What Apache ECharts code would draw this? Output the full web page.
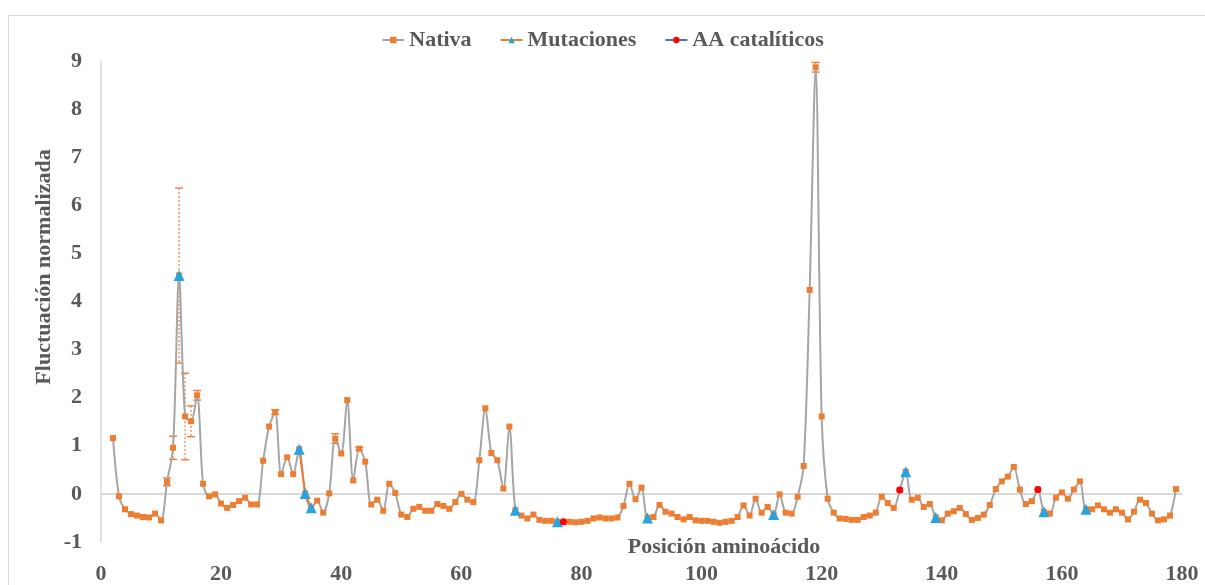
<!DOCTYPE html>
<html>
<head>
<meta charset="utf-8">
<script src="https://cdn.jsdelivr.net/npm/echarts@6/dist/echarts.min.js"></script>
<style>
  html, body { margin: 0; padding: 0; background: #fff; }
  #chart { width: 1205px; height: 585px; }
</style>
</head>
<body>
<div id="chart"></div>
<script>
// posiciones 2..179
const firstPos = 2;
const nativa = [
  1.16, -0.05, -0.32, -0.42, -0.45, -0.48, -0.49, -0.41, -0.55, 0.25,
  0.96, 4.54, 1.61, 1.51, 2.05, 0.21, -0.05, -0.01, -0.20, -0.29,
  -0.23, -0.15, -0.08, -0.22, -0.22, 0.69, 1.40, 1.70, 0.41, 0.76,
  0.41, 0.93, 0.01, -0.29, -0.14, -0.39, 0.01, 1.15, 0.84, 1.95,
  0.28, 0.94, 0.67, -0.22, -0.12, -0.35, 0.21, 0.02, -0.43, -0.48,
  -0.31, -0.27, -0.35, -0.35, -0.21, -0.25, -0.31, -0.17, 0.00, -0.12,
  -0.17, 0.70, 1.78, 0.85, 0.70, 0.11, 1.40, -0.34, -0.45, -0.51,
  -0.43, -0.54, -0.56, -0.56, -0.58, -0.58, -0.58, -0.59, -0.58, -0.56,
  -0.51, -0.49, -0.51, -0.51, -0.49, -0.25, 0.21, -0.11, 0.13, -0.50,
  -0.48, -0.23, -0.37, -0.41, -0.48, -0.53, -0.48, -0.55, -0.56, -0.56,
  -0.58, -0.60, -0.58, -0.56, -0.48, -0.24, -0.45, -0.10, -0.39, -0.27,
  -0.43, -0.01, -0.39, -0.41, -0.06, 0.58, 4.24, 8.87, 1.61, -0.10,
  -0.39, -0.51, -0.52, -0.54, -0.54, -0.48, -0.45, -0.39, -0.06, -0.19,
  -0.29, 0.08, 0.46, -0.12, -0.08, -0.27, -0.21, -0.49, -0.55, -0.41,
  -0.36, -0.29, -0.42, -0.54, -0.50, -0.43, -0.23, 0.10, 0.26, 0.36,
  0.56, 0.09, -0.21, -0.15, 0.09, -0.37, -0.41, -0.08, 0.03, -0.10,
  0.09, 0.26, -0.32, -0.32, -0.24, -0.32, -0.39, -0.32, -0.39, -0.53,
  -0.37, -0.12, -0.19, -0.41, -0.55, -0.53, -0.45, 0.10
];
const mutPos = [13, 33, 34, 35, 69, 76, 91, 112, 134, 139, 157, 164];
const mutVal = [4.54, 0.93, 0.01, -0.29, -0.34, -0.58, -0.50, -0.43, 0.46, -0.49, -0.37, -0.32];
const catPos = [77, 133, 156];
const catVal = [-0.58, 0.08, 0.09];
const errPos = [11, 12, 13, 14, 15, 16, 29, 39, 43, 119];
const errAmt = [0.08, 0.24, 1.82, 0.90, 0.32, 0.10, 0.05, 0.10, 0.03, 0.10];
const xTicks = [0, 20, 40, 60, 80, 100, 120, 140, 160, 180];

const font = '"Liberation Serif", "Times New Roman", serif';
const txt = '#595959';
const orange = '#ED7D31';

let nativaData = nativa.map((v, i) => [firstPos + i, v]);
let mutData = [];
mutPos.forEach((p, i) => {
  if (i > 0 && p !== mutPos[i - 1] + 1) mutData.push([p - 0.5, '-']);
  mutData.push([p, mutVal[i]]);
});
let catData = [];
catPos.forEach((p, i) => {
  if (i > 0) catData.push([p - 0.5, '-']);
  catData.push([p, catVal[i]]);
});
let errData = errPos.map((p, i) => {
  let v = nativa[p - firstPos];
  return [p, v - errAmt[i], v + errAmt[i]];
});

let chart = echarts.init(document.getElementById('chart'));
chart.setOption({
  animation: false,
  backgroundColor: '#fff',
  textStyle: { fontFamily: font },
  grid: { left: 101, right: 23, top: 61, bottom: 40, containLabel: false },
  legend: {
    top: 24, left: 'center',
    itemWidth: 22, itemHeight: 8, itemGap: 28,
    textStyle: { fontFamily: font, fontSize: 22, fontWeight: 'bold', color: txt },
    data: ['Nativa', 'Mutaciones', 'AA catalíticos']
  },
  xAxis: [{
    type: 'value', min: 0, max: 180, interval: 20,
    axisLine: { show: false, onZero: false },
    axisTick: { show: false },
    splitLine: { show: false },
    axisLabel: {
      margin: 21, fontFamily: font, fontSize: 22, fontWeight: 'bold', color: txt,
      showMinLabel: true, showMaxLabel: true,
      formatter: v => xTicks.indexOf(v) >= 0 ? String(v) : ''
    }
  }, {
    type: 'value', min: 0, max: 180, position: 'bottom',
    axisLine: { show: true, onZero: true, lineStyle: { color: '#D9D9D9', width: 2 } },
    axisTick: { show: false }, axisLabel: { show: false }, splitLine: { show: false }
  }],
  yAxis: {
    type: 'value', min: -1, max: 9, interval: 1,
    axisLine: { show: true, onZero: false, lineStyle: { color: '#D9D9D9', width: 1.5 } },
    axisTick: { show: false },
    splitLine: { show: false },
    axisLabel: { margin: 19, fontFamily: font, fontSize: 22, fontWeight: 'bold', color: txt }
  },
  graphic: [
    {
      type: 'rect', left: 6, top: 13, z: -10, silent: true,
      shape: { width: 1300, height: 700 },
      style: { fill: 'none', stroke: '#D9D9D9', lineWidth: 1 }
    },
    {
      type: 'text', x: 44, y: 267, rotation: Math.PI / 2,
      style: {
        text: 'Fluctuación normalizada', fontFamily: font, fontSize: 22, fontWeight: 'bold',
        fill: txt, align: 'center', verticalAlign: 'middle'
      }
    },
    {
      type: 'text', x: 724, y: 547,
      style: {
        text: 'Posición aminoácido', fontFamily: font, fontSize: 22, fontWeight: 'bold',
        fill: txt, align: 'center', verticalAlign: 'middle'
      }
    }
  ],
  series: [
    {
      type: 'custom', name: 'error', xAxisIndex: 0, z: 3, silent: true,
      data: errData,
      renderItem: function (params, api) {
        let x = api.value(0);
        let top = api.coord([x, api.value(2)]);
        let bot = api.coord([x, api.value(1)]);
        let w = 4;
        let st = { stroke: orange, lineWidth: 1.4 };
        return {
          type: 'group',
          children: [
            { type: 'line', shape: { x1: top[0], y1: top[1], x2: bot[0], y2: bot[1] },
              style: { stroke: orange, lineWidth: 1.4, lineDash: [2, 2], opacity: 0.85 } },
            { type: 'line', shape: { x1: top[0] - w, y1: top[1], x2: top[0] + w, y2: top[1] }, style: st },
            { type: 'line', shape: { x1: bot[0] - w, y1: bot[1], x2: bot[0] + w, y2: bot[1] }, style: st }
          ]
        };
      }
    },
    {
      type: 'line', name: 'Nativa', xAxisIndex: 0, z: 4,
      data: nativaData, smooth: 0.3,
      symbol: 'rect', symbolSize: 6, showSymbol: true,
      lineStyle: { color: '#A5A5A5', width: 2 },
      itemStyle: { color: orange }
    },
    {
      type: 'line', name: 'Mutaciones', xAxisIndex: 0, z: 5,
      data: mutData, connectNulls: false,
      symbol: 'triangle', symbolSize: 11, showSymbol: true,
      lineStyle: { color: orange, width: 2 },
      itemStyle: { color: '#29A3DE' }
    },
    {
      type: 'line', name: 'AA catalíticos', xAxisIndex: 0, z: 6,
      data: catData, connectNulls: false,
      symbol: 'circle', symbolSize: 7, showSymbol: true,
      lineStyle: { color: '#4472C4', width: 2 },
      itemStyle: { color: '#FF0000' }
    }
  ]
});
</script>
</body>
</html>
